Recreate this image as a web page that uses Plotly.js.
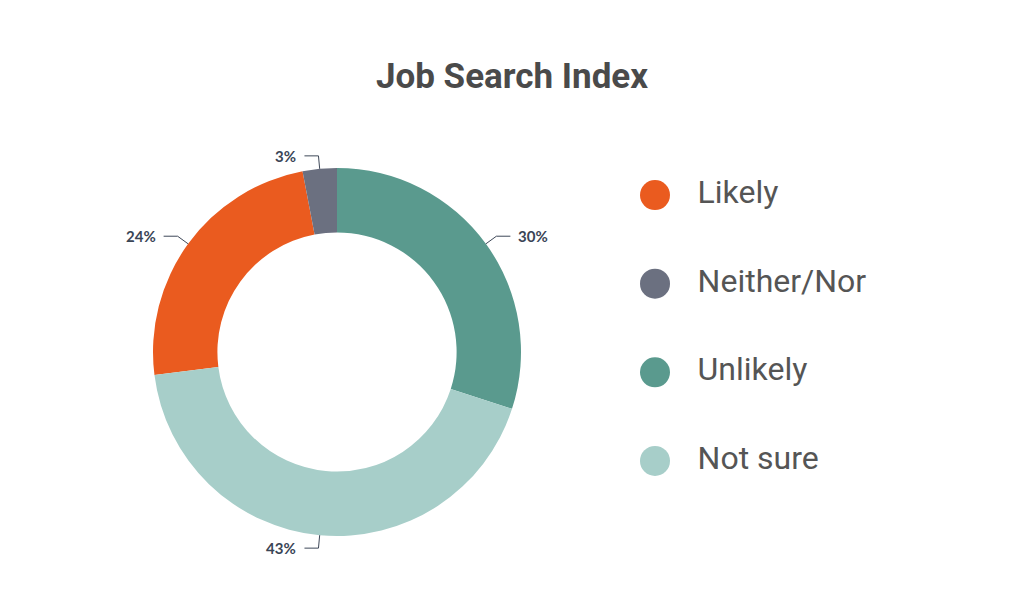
<!DOCTYPE html>
<html><head><meta charset="utf-8">
<script src="https://cdn.plot.ly/plotly-3.0.1.min.js"></script>
<style>html,body{margin:0;padding:0;background:#fff}#chart{width:1024px;height:598px}</style>
</head><body><div id="chart"></div>
<script>
var categories = ["Likely", "Neither/Nor", "Unlikely", "Not sure"];
var values = [24, 3, 30, 43];
var labels = ["24%", "3%", "30%", "43%"];
var colors = ["#EA5B1F", "#6B7080", "#5A9A8E", "#A7CEC9"];

var W = 1024, H = 598;
var cx = 337, cy = 352, R = 184;
var total = values.reduce(function(a,b){return a+b;},0);
var startDeg = -(values[0] + values[1]) / total * 360;

var pie = {
  type: "pie", values: values, labels: categories, sort: false,
  direction: "clockwise", rotation: startDeg, hole: 0.65,
  marker: {colors: colors, line: {width: 0}},
  textinfo: "none", hoverinfo: "label+percent", showlegend: false,
  domain: {x: [(cx - R) / W, (cx + R) / W], y: [1 - (cy + R) / H, 1 - (cy - R) / H]}
};

var legendTrace = {
  type: "scatter", mode: "markers+text",
  x: categories.map(function(){return 0;}), y: categories,
  text: categories.map(function(c){return "\u2002\u2009" + c;}),
  textposition: "middle right",
  textfont: {family: "Roboto", size: 32, color: "#555555"},
  marker: {size: 30, color: colors},
  hoverinfo: "skip", showlegend: false, cliponaxis: false
};

var shapes = [], annotations = [];
var acc = 0;
function px(x){return x / W;}
function py(y){return 1 - y / H;}
values.forEach(function(v, i){
  var mid = (startDeg + (acc + v / 2) / total * 360) * Math.PI / 180;
  acc += v;
  var s = Math.sin(mid), c = Math.cos(mid);
  var ex = cx + R * s, ey = cy - R * c;
  var r2 = R + 13;
  var bx = cx + r2 * s, by = cy - r2 * c;
  var dir = s >= 0 ? 1 : -1;
  var hx = bx + dir * 14;
  shapes.push({type: "path", xref: "paper", yref: "paper",
    path: "M" + px(ex) + "," + py(ey) + " L" + px(bx) + "," + py(by) + " L" + px(hx) + "," + py(by),
    line: {color: "#3E4858", width: 1}});
  annotations.push({xref: "paper", yref: "paper", x: px(hx + dir * 6), y: py(by),
    xanchor: dir > 0 ? "left" : "right", yanchor: "middle", showarrow: false,
    text: "<b>" + labels[i] + "</b>", font: {family: "Lato", size: 15, color: "#3A4556"}});
});

var layout = {
  width: W, height: H, margin: {l: 0, r: 0, t: 0, b: 0},
  paper_bgcolor: "#ffffff", plot_bgcolor: "#ffffff",
  title: {text: "<b>Job Search Index</b>", x: 0.5, xanchor: "center", y: 1 - 76 / H, yanchor: "middle",
    font: {family: "Roboto", size: 35, color: "#4A4A4A"}},
  xaxis: {domain: [655 / W, 1], range: [0, 1], visible: false, fixedrange: true},
  yaxis: {domain: [1 - 505.3 / H, 1 - 150.7 / H], range: [3.5, -0.5], type: "category", visible: false, fixedrange: true},
  shapes: shapes, annotations: annotations, showlegend: false
};

Plotly.newPlot("chart", [pie, legendTrace], layout, {displayModeBar: false, staticPlot: true});
</script></body></html>
